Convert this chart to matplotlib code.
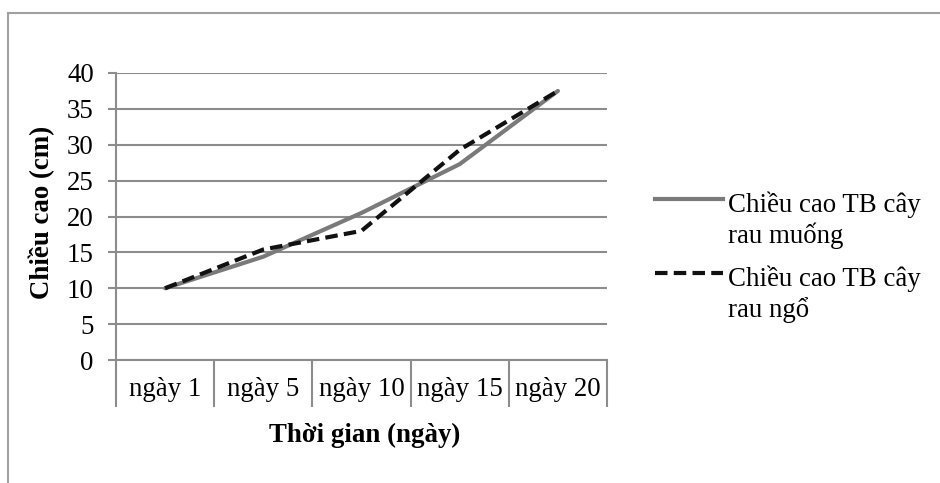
import matplotlib
matplotlib.use("Agg")
import matplotlib.pyplot as plt
from matplotlib.lines import Line2D

categories = ["ngày 1", "ngày 5", "ngày 10", "ngày 15", "ngày 20"]
rau_muong = [10.0, 14.4, 20.5, 27.3, 37.5]
rau_ngo = [10.0, 15.4, 18.0, 29.3, 37.5]
series_labels = ["Chiều cao TB cây\nrau muống", "Chiều cao TB cây\nrau ngổ"]
y_ticks = [0, 5, 10, 15, 20, 25, 30, 35, 40]

W, H = 940, 483
DPI = 100
plt.rcParams['font.family'] = ['Liberation Serif', 'DejaVu Serif']
FS = 19.4
GRAY = "#8c8c8c"

fig = plt.figure(figsize=(W / DPI, H / DPI), dpi=DPI)
fig.patch.set_facecolor("white")

def fx(px):
    return px / W

def fy(py):
    return 1 - py / H

# outer border (top and left visible)
fig.add_artist(Line2D([fx(8), fx(8)], [fy(13), 0], transform=fig.transFigure, color="#a0a0a0", lw=1.5))
fig.add_artist(Line2D([fx(8), 1], [fy(13), fy(13)], transform=fig.transFigure, color="#a0a0a0", lw=1.5))

ax = fig.add_axes([fx(116), fy(360), fx(607) - fx(116), fy(73) - fy(360)])
x = list(range(len(categories)))

ax.plot(x, rau_muong, color="#7a7a7a", lw=3.0, solid_capstyle="round", zorder=3)
ax.plot(x, rau_ngo, color="#111111", lw=3.0, dashes=(3, 1.5), zorder=4)

ax.set_xlim(-0.5, len(categories) - 0.5)
ax.set_ylim(0, 40)
ax.set_yticks(y_ticks)
ax.set_yticklabels([str(v) for v in y_ticks], fontsize=FS)
ax.yaxis.grid(True, color=GRAY, lw=1.5)
ax.set_axisbelow(True)

ax.set_xticks(x)
ax.set_xticklabels(categories, fontsize=FS)
ax.set_xticks([i - 0.5 for i in range(len(categories) + 1)], minor=True)
ax.tick_params(axis="x", which="major", length=0, pad=12)
ax.tick_params(axis="x", which="minor", length=34, width=1.5, color=GRAY, direction="out")
ax.tick_params(axis="y", length=6, width=1.5, color=GRAY, pad=10)

for s in ["top", "right"]:
    ax.spines[s].set_visible(False)
for s in ["left", "bottom"]:
    ax.spines[s].set_color(GRAY)
    ax.spines[s].set_linewidth(1.5)

fig.text(fx(42), fy(212), "Chiều cao (cm)", rotation=90, ha="center", va="center",
         fontsize=FS, fontweight="bold")
fig.text(fx(365), fy(442), "Thời gian (ngày)", ha="center", va="baseline",
         fontsize=FS, fontweight="bold")

# legend
leg_items = [
    (199, dict(color="#7a7a7a", lw=3.0)),
    (273, dict(color="#111111", lw=3.0, dashes=(3, 1.5))),
]
for (yy, style), lab in zip(leg_items, series_labels):
    fig.add_artist(Line2D([fx(655), fx(723)], [fy(yy), fy(yy)], transform=fig.transFigure, **style))
    for k, line in enumerate(lab.split("\n")):
        fig.text(fx(728), fy(yy + 13 + 31 * k), line, ha="left", va="baseline", fontsize=FS)

fig.savefig("out.png", dpi=DPI, facecolor="white")
